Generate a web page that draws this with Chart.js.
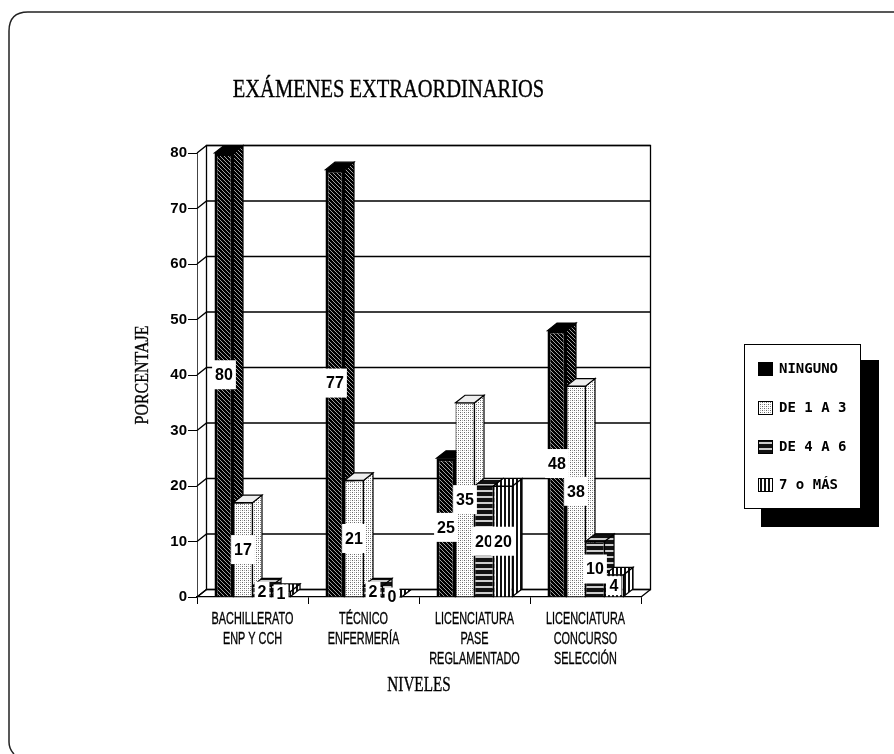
<!DOCTYPE html>
<html>
<head>
<meta charset="utf-8">
<title>Exámenes extraordinarios</title>
<script src="https://cdn.jsdelivr.net/npm/chart.js@4/dist/chart.umd.min.js"></script>
<style>
  html, body { margin: 0; padding: 0; background: #fff; }
  canvas { display: block; }
</style>
</head>
<body>
<canvas id="grafico" width="894" height="754"></canvas>
<script>
// Datos
const tituloGrafico = "EXÁMENES EXTRAORDINARIOS";
const tituloY = "PORCENTAJE";
const tituloX = "NIVELES";
const niveles = [
  ["BACHILLERATO", "ENP Y CCH"],
  ["TÉCNICO", "ENFERMERÍA"],
  ["LICENCIATURA", "PASE", "REGLAMENTADO"],
  ["LICENCIATURA", "CONCURSO", "SELECCIÓN"],
];
const nombresSeries = ["NINGUNO", "DE 1 A 3", "DE 4 A 6", "7 o MÁS"];
const ninguno = [80, 77, 25, 48];
const de1a3 = [17, 21, 35, 38];
const de4a6 = [2, 2, 20, 10];
const sieteOMas = [1, 0, 20, 4];

// Profundidad del efecto 3D
const fondoX = 9.5;
const fondoY = 7.5;

// Tramas de relleno
function crearTrama(ancho, alto, dibujar) {
  const c = document.createElement("canvas");
  c.width = ancho;
  c.height = alto;
  dibujar(c.getContext("2d"));
  return c.getContext("2d").createPattern(c, "repeat");
}

const tramaOscura = crearTrama(4, 4, (g) => {
  g.fillStyle = "#000";
  g.fillRect(0, 0, 4, 4);
  g.fillStyle = "#a0a0a0";
  for (let i = 0; i < 4; i++) g.fillRect(i, i, 1, 1);
});
const tramaPuntos = crearTrama(4, 4, (g) => {
  g.fillStyle = "#fff";
  g.fillRect(0, 0, 4, 4);
  g.fillStyle = "#666";
  g.fillRect(0, 0, 1, 1);
  g.fillRect(2, 2, 1, 1);
  g.fillStyle = "#aaa";
  g.fillRect(2, 0, 1, 1);
  g.fillRect(0, 2, 1, 1);
});
const tramaHorizontal = crearTrama(4, 6, (g) => {
  g.fillStyle = "#111";
  g.fillRect(0, 0, 4, 6);
  g.fillStyle = "#ccc";
  g.fillRect(0, 4, 4, 2);
});
const tramaVertical = crearTrama(4, 4, (g) => {
  g.fillStyle = "#fff";
  g.fillRect(0, 0, 4, 4);
  g.fillStyle = "#111";
  g.fillRect(0, 0, 2, 4);
});
const tramas = [tramaOscura, tramaPuntos, tramaHorizontal, tramaVertical];

// Texto estrechado en horizontal (no hay fuente condensada instalada)
function textoEstrecho(ctx, texto, x, y, escala, fuente, giro) {
  ctx.save();
  ctx.translate(x, y);
  if (giro) ctx.rotate(giro);
  ctx.scale(escala, 1);
  ctx.font = fuente;
  ctx.textAlign = "center";
  ctx.textBaseline = "middle";
  ctx.fillStyle = "#000";
  ctx.strokeStyle = "#000";
  ctx.lineWidth = 0.35;
  ctx.fillText(texto, 0, 0);
  ctx.strokeText(texto, 0, 0);
  ctx.restore();
}

// Lateral y tapa de cada barra
function dibujarVolumen(ctx, meta, indice) {
  const trama = tramas[indice];
  ctx.save();
  ctx.strokeStyle = "#000";
  ctx.lineWidth = 1.2;
  meta.data.forEach((bar) => {
    const { x, y, base, width } = bar.getProps(["x", "y", "base", "width"], true);
    const der = x + width / 2;
    const izq = x - width / 2;
    ctx.fillStyle = trama;
    ctx.beginPath();
    ctx.moveTo(der, base);
    ctx.lineTo(der + fondoX, base - fondoY);
    ctx.lineTo(der + fondoX, y - fondoY);
    ctx.lineTo(der, y);
    ctx.closePath();
    ctx.fill();
    ctx.stroke();
    ctx.fillStyle = indice === 0 ? "#000" : indice === 1 ? "#eee" : trama;
    ctx.beginPath();
    ctx.moveTo(izq, y);
    ctx.lineTo(izq + fondoX, y - fondoY);
    ctx.lineTo(der + fondoX, y - fondoY);
    ctx.lineTo(der, y);
    ctx.closePath();
    ctx.fill();
    ctx.stroke();
  });
  ctx.restore();
}

const pluginFondo = {
  id: "fondo",
  beforeDatasetsDraw(chart) {
    const { ctx, chartArea, scales } = chart;
    const { left, right, top, bottom } = chartArea;
    ctx.save();

    // Marco de la página (abierto a la derecha y abajo)
    ctx.strokeStyle = "#222";
    ctx.lineWidth = 1.5;
    ctx.beginPath();
    ctx.moveTo(894, 12);
    ctx.lineTo(28, 12);
    ctx.quadraticCurveTo(9, 12, 9, 31);
    ctx.lineTo(9, 742);
    ctx.quadraticCurveTo(9, 749, 14, 754);
    ctx.stroke();

    // Pared del fondo
    ctx.strokeStyle = "#000";
    ctx.lineWidth = 1.3;
    ctx.strokeRect(left + fondoX, top - fondoY, right - left, bottom - top);
    ctx.beginPath();
    ctx.moveTo(left, bottom);
    ctx.lineTo(left + fondoX, bottom - fondoY);
    ctx.moveTo(right, bottom);
    ctx.lineTo(right + fondoX, bottom - fondoY);
    ctx.stroke();

    // Rejilla: diagonal en el lateral y línea en la pared
    scales.y.ticks.forEach((t) => {
      const y = scales.y.getPixelForValue(t.value);
      ctx.beginPath();
      ctx.moveTo(left, y);
      ctx.lineTo(left + fondoX, y - fondoY);
      ctx.lineTo(right + fondoX, y - fondoY);
      ctx.stroke();
    });
    ctx.restore();

    // Series de izquierda a derecha: cada una tapa el lateral de la anterior
    chart.data.datasets.forEach((ds, i) => {
      const meta = chart.getDatasetMeta(i);
      dibujarVolumen(ctx, meta, i);
      meta.controller.draw();
    });
  },
  // El dibujo normal ya está hecho arriba, en el orden correcto
  beforeDatasetDraw() {
    return false;
  },
  // Etiquetas blancas con el valor, títulos y leyenda
  afterDatasetsDraw(chart) {
    const { ctx, chartArea, scales } = chart;
    ctx.save();
    ctx.textAlign = "center";
    ctx.textBaseline = "middle";
    ctx.font = "bold 16px 'Liberation Sans'";
    chart.data.datasets.forEach((ds, i) => {
      chart.getDatasetMeta(i).data.forEach((bar, j) => {
        const { x, y, base } = bar.getProps(["x", "y", "base"], true);
        const medio = (y + base) / 2;
        const texto = String(ds.data[j]);
        const ancho = ctx.measureText(texto).width + 6;
        const alto = ds.data[j] < 10 ? 19 : 29;
        ctx.fillStyle = "#fff";
        ctx.fillRect(x - ancho / 2, medio - alto / 2, ancho, alto);
        ctx.fillStyle = "#000";
        ctx.fillText(texto, x, medio + 1);
      });
    });
    ctx.restore();

    // Títulos
    textoEstrecho(ctx, tituloGrafico, 388.5, 90, 0.82, "25px 'Liberation Serif'");
    textoEstrecho(ctx, tituloX, (chartArea.left + chartArea.right) / 2, 686, 0.76, "20px 'Liberation Serif'");
    textoEstrecho(ctx, tituloY, 143, 375, 0.84, "19px 'Liberation Serif'", -Math.PI / 2);

    // Etiquetas de categoría
    niveles.forEach((lineas, i) => {
      const x = scales.x.getPixelForTick(i);
      lineas.forEach((linea, k) => {
        textoEstrecho(ctx, linea, x, 619 + k * 20, 0.64, "17px 'Liberation Sans'");
      });
    });

    // Leyenda
    ctx.save();
    ctx.fillStyle = "#000";
    ctx.fillRect(761, 360, 118, 167);
    ctx.fillStyle = "#fff";
    ctx.fillRect(744, 344, 117, 165);
    ctx.strokeStyle = "#000";
    ctx.lineWidth = 1;
    ctx.strokeRect(744.5, 344.5, 116, 164);
    ctx.font = "bold 14px 'DejaVu Sans Mono'";
    ctx.textAlign = "left";
    ctx.textBaseline = "middle";
    [369, 408, 447, 485].forEach((y, i) => {
      ctx.fillStyle = i === 0 ? "#000" : tramas[i];
      ctx.fillRect(758, y - 7, 15, 14);
      ctx.strokeRect(758.5, y - 6.5, 14, 13);
      ctx.fillStyle = "#000";
      ctx.fillText(nombresSeries[i], 779, y);
    });
    ctx.restore();
  },
};

const grafico = new Chart(document.getElementById("grafico"), {
  type: "bar",
  data: {
    labels: niveles,
    datasets: [ninguno, de1a3, de4a6, sieteOMas].map((valores, i) => ({
      label: nombresSeries[i],
      data: valores,
      backgroundColor: tramas[i],
      borderColor: "#000",
      borderWidth: i === 0 ? 3 : 1,
      categoryPercentage: 0.685,
      barPercentage: 1,
    })),
  },
  options: {
    responsive: false,
    animation: false,
    layout: { padding: { left: 130, right: 253, top: 153, bottom: 55 } },
    plugins: {
      legend: { display: false },
      title: { display: false },
      tooltip: { enabled: false },
    },
    scales: {
      x: {
        afterFit(scale) {
          scale.height = 102;
        },
        grid: { drawOnChartArea: false, tickLength: 7, color: "#000" },
        border: { color: "#000", width: 1.3 },
        // Las etiquetas se dibujan estrechadas en el plugin
        ticks: { display: false },
      },
      y: {
        min: 0,
        max: 80,
        afterFit(scale) {
          scale.width = 67;
        },
        grid: { drawOnChartArea: false, tickLength: 9, color: "#000" },
        border: { color: "#444", width: 1, dash: [2, 1] },
        ticks: {
          stepSize: 10,
          color: "#000",
          font: { family: "'Liberation Sans'", size: 15, weight: "bold" },
          padding: 1,
        },
      },
    },
  },
  plugins: [pluginFondo],
});
</script>
</body>
</html>
